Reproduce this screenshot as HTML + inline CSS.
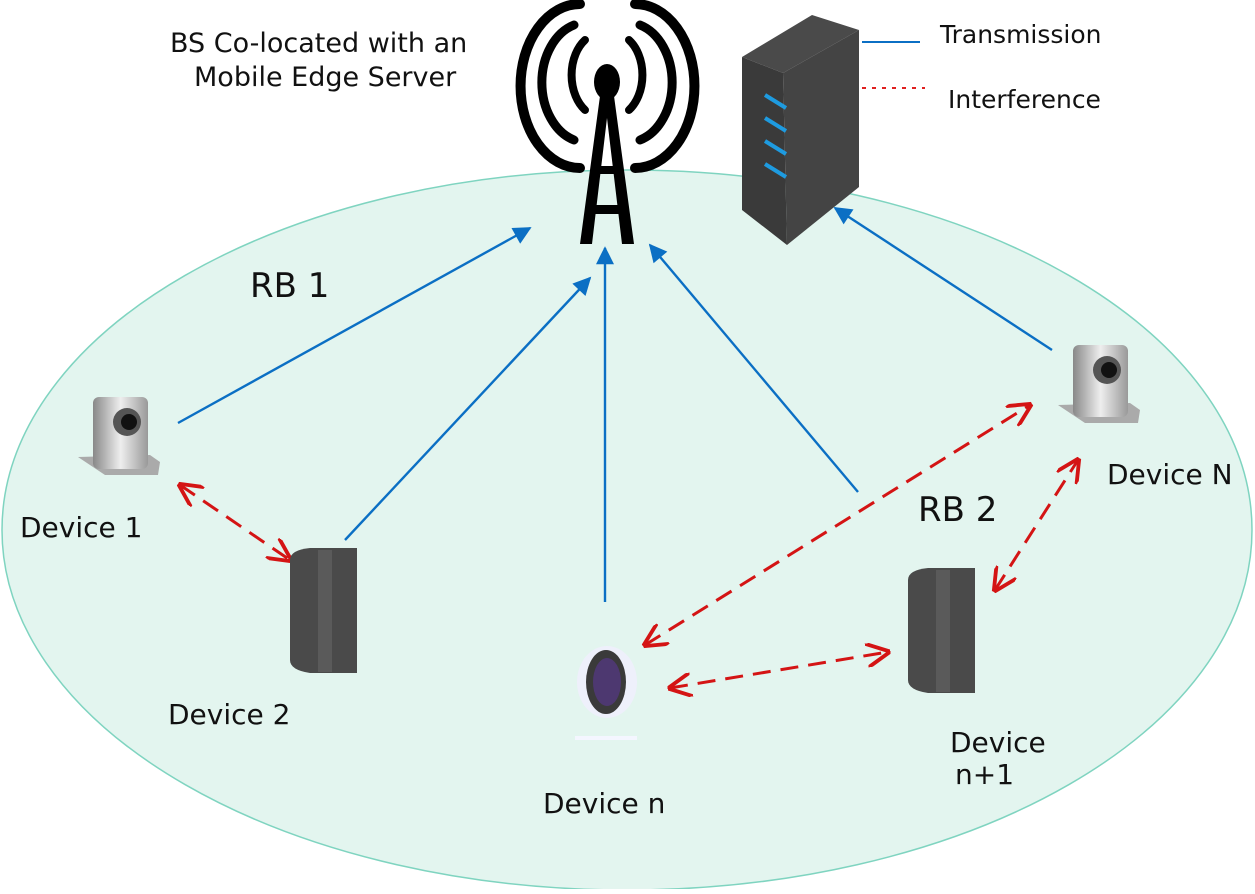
<!DOCTYPE html>
<html><head><meta charset="utf-8"><style>
body{margin:0;background:#fff}
svg text{font-family:"DejaVu Sans","Liberation Sans",sans-serif;fill:#111}
</style></head><body>
<svg width="1255" height="889" viewBox="0 0 1255 889" xmlns="http://www.w3.org/2000/svg">
<defs>
<marker id="b" viewBox="0 0 10 10" refX="9" refY="5" markerWidth="20" markerHeight="18" markerUnits="userSpaceOnUse" orient="auto"><path d="M0,0L10,5L0,10z" fill="#0b6fc4"/></marker>
<marker id="r" viewBox="0 0 10 10" refX="9" refY="5" markerWidth="8" markerHeight="8" orient="auto-start-reverse"><path d="M0,0L10,5L0,10" fill="none" stroke="#d41414" stroke-width="1.6"/></marker>
<linearGradient id="cam" x1="0" x2="1"><stop offset="0" stop-color="#888"/><stop offset=".5" stop-color="#eee"/><stop offset="1" stop-color="#999"/></linearGradient>
</defs>
<ellipse cx="627" cy="530" rx="625" ry="360" fill="#e3f5ef" stroke="#7fd4c0" stroke-width="1.5"/>
<!-- tower -->
<g fill="none" stroke="#000" stroke-linecap="round">
<path d="M585,40 A30,42 0 0 0 585,110" stroke-width="8"/><path d="M629,40 A30,42 0 0 1 629,110" stroke-width="8"/>
<path d="M574,25 A45,60 0 0 0 574,140" stroke-width="9"/><path d="M640,25 A45,60 0 0 1 640,140" stroke-width="9"/>
<path d="M580,4 A58,80 0 0 0 580,168" stroke-width="10"/><path d="M635,4 A58,80 0 0 1 635,168" stroke-width="10"/>
</g>
<ellipse cx="607" cy="82" rx="13" ry="18" fill="#000"/>
<path d="M600,96 L614,96 L634,244 L622,244 L607,118 L592,244 L580,244 Z" fill="#000"/>
<rect x="594" y="166" width="26" height="8" fill="#000"/><rect x="589" y="205" width="36" height="9" fill="#000"/>
<!-- server -->
<polygon points="742,57 812,15 859,30 783,73" fill="#4a4a4a"/>
<polygon points="742,57 783,73 787,245 742,210" fill="#3a3a3a"/>
<polygon points="783,73 859,30 859,187 787,245" fill="#444"/>
<g stroke="#1e9be0" stroke-width="4"><line x1="765" y1="95" x2="786" y2="108"/><line x1="765" y1="118" x2="786" y2="131"/><line x1="765" y1="141" x2="786" y2="154"/><line x1="765" y1="164" x2="786" y2="177"/></g>
<!-- legend -->
<line x1="862" y1="42" x2="920" y2="42" stroke="#0b6fc4" stroke-width="2"/>
<line x1="862" y1="88" x2="925" y2="88" stroke="#e02020" stroke-width="2" stroke-dasharray="4,6"/>
<text x="940" y="43" font-size="25">Transmission</text>
<text x="948" y="108" font-size="25">Interference</text>
<text x="170" y="52" font-size="27">BS Co-located with an</text>
<text x="194" y="86" font-size="27">Mobile Edge Server</text>
<!-- blue lines -->
<g stroke="#0b6fc4" stroke-width="2.4" marker-end="url(#b)">
<line x1="178" y1="423" x2="530" y2="228"/>
<line x1="345" y1="540" x2="590" y2="278"/>
<line x1="605" y1="602" x2="605" y2="248"/>
<line x1="858" y1="492" x2="650" y2="245"/>
<line x1="1052" y1="350" x2="835" y2="208"/>
</g>
<!-- red lines -->
<g stroke="#d41414" stroke-width="3" stroke-dasharray="18,10" marker-start="url(#r)" marker-end="url(#r)" fill="none">
<line x1="180" y1="485" x2="290" y2="560"/>
<line x1="645" y1="645" x2="1030" y2="405"/>
<line x1="670" y1="688" x2="888" y2="652"/>
<line x1="995" y1="590" x2="1078" y2="460"/>
</g>
<!-- cameras -->
<g>
<polygon points="78,457 105,475 158,475 160,462 150,455" fill="#aaa"/>
<rect x="93" y="397" width="55" height="72" rx="6" fill="url(#cam)"/>
<circle cx="127" cy="422" r="14" fill="#555"/><circle cx="129" cy="422" r="8" fill="#111"/>
</g>
<g transform="translate(980,-52)">
<polygon points="78,457 105,475 158,475 160,462 150,455" fill="#aaa"/>
<rect x="93" y="397" width="55" height="72" rx="6" fill="url(#cam)"/>
<circle cx="127" cy="422" r="14" fill="#555"/><circle cx="129" cy="422" r="8" fill="#111"/>
</g>
<!-- drives -->
<path d="M290,560 Q290,550 310,548 L357,548 L357,673 L310,673 Q290,670 290,660 Z" fill="#4a4a4a"/>
<rect x="318" y="550" width="14" height="122" fill="#5a5a5a"/>
<path d="M908,580 Q908,570 928,568 L975,568 L975,693 L928,693 Q908,690 908,680 Z" fill="#4a4a4a"/>
<rect x="936" y="570" width="14" height="122" fill="#5a5a5a"/>
<!-- webcam -->
<ellipse cx="607" cy="682" rx="30" ry="36" fill="#eef0fb"/>
<ellipse cx="606" cy="682" rx="20" ry="32" fill="#3a3a3a"/>
<ellipse cx="607" cy="682" rx="14" ry="24" fill="#4d3870"/>
<rect x="575" y="736" width="62" height="4" fill="#f4f6ff"/>
<!-- labels -->
<text x="250" y="297" font-size="34">RB 1</text>
<text x="918" y="521" font-size="34">RB 2</text>
<text x="20" y="537" font-size="28">Device 1</text>
<text x="168" y="724" font-size="28">Device 2</text>
<text x="543" y="813" font-size="28">Device n</text>
<text x="950" y="752" font-size="28">Device</text>
<text x="955" y="784" font-size="28">n+1</text>
<text x="1107" y="484" font-size="28">Device N</text>
</svg>
</body></html>
